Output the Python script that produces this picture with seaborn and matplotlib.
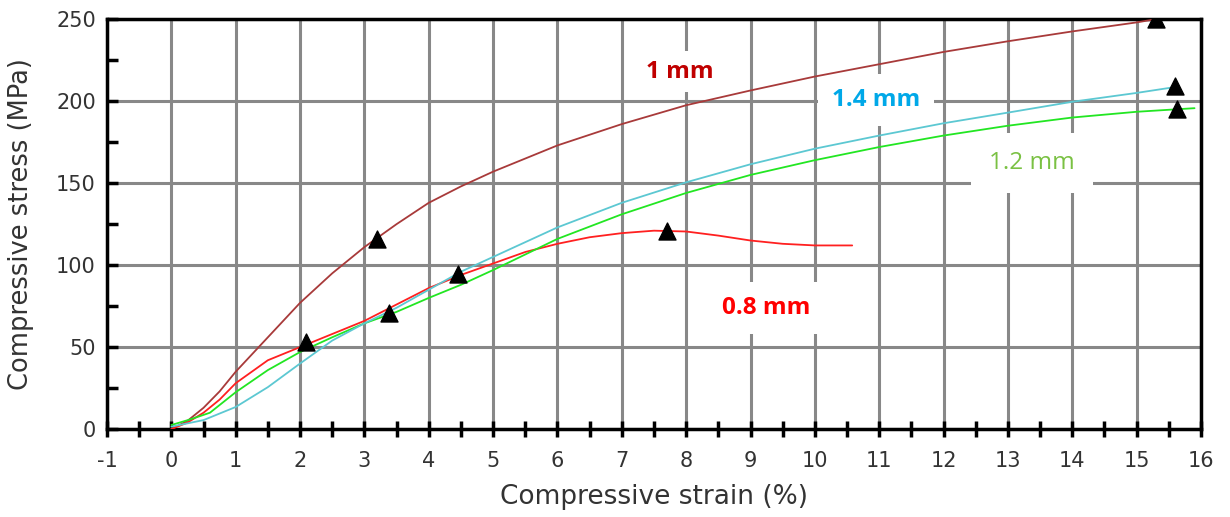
import numpy as np
import pandas as pd
import matplotlib
matplotlib.use('Agg')
import matplotlib.pyplot as plt
import seaborn as sns
from matplotlib.ticker import MultipleLocator

# curves (strain %, stress MPa)
strain_1mm = [0, 0.25, 0.5, 0.75, 1, 1.5, 2, 2.5, 3, 3.5, 4, 4.5, 5, 6, 7, 8, 9, 10, 11, 12, 13, 14, 15, 15.3]
stress_1mm = [0, 5, 13, 23, 35, 56, 77, 95, 111, 125, 138, 148, 157, 173, 186, 197.5, 206.5, 215, 222.5, 230, 236.5, 242.5, 248, 250]

strain_08mm = [0, 0.25, 0.5, 0.75, 1, 1.5, 2, 2.5, 3, 3.5, 4, 4.5, 5, 5.5, 6, 6.5, 7, 7.5, 8, 8.5, 9, 9.5, 10, 10.58]
stress_08mm = [0, 4, 10, 18, 28, 42, 50, 58, 66, 76, 86, 94, 101, 108, 113, 117, 119.5, 121, 120.5, 118, 115, 113, 112, 112]

strain_12mm = [0, 0.3, 0.6, 1, 1.5, 2, 2.5, 3, 3.5, 4, 4.5, 5, 6, 7, 8, 9, 10, 11, 12, 13, 14, 15, 15.9]
stress_12mm = [2.5, 6, 10, 22.5, 36, 47, 56, 64.5, 71.5, 80, 88, 97, 116, 131, 144, 155, 164, 172, 179, 185, 190, 193.5, 195.7]

strain_14mm = [0, 0.5, 1, 1.5, 2, 2.5, 3, 3.5, 4, 4.5, 5, 6, 7, 8, 9, 10, 11, 12, 13, 14, 15, 15.6]
stress_14mm = [1.5, 5.5, 13.5, 25.6, 40, 54, 64.5, 74, 85, 96, 105, 123, 138, 150.5, 161.5, 171, 179, 186.5, 193, 199.6, 205, 208.6]

# black triangles
marker_strain = [3.2, 15.3, 2.1, 7.7, 3.38, 15.62, 4.45, 15.6]
marker_stress = [116, 250, 53, 121, 70.5, 195, 94.5, 209]

curves = pd.concat([
    pd.DataFrame({'strain': strain_1mm, 'stress': stress_1mm, 'size': '1 mm'}),
    pd.DataFrame({'strain': strain_08mm, 'stress': stress_08mm, 'size': '0.8 mm'}),
    pd.DataFrame({'strain': strain_12mm, 'stress': stress_12mm, 'size': '1.2 mm'}),
    pd.DataFrame({'strain': strain_14mm, 'stress': stress_14mm, 'size': '1.4 mm'}),
])
palette = {'1 mm': '#a83a3a', '0.8 mm': '#ff2020', '1.2 mm': '#22e622', '1.4 mm': '#5cc8d2'}

sns.set_style('white')
plt.rcParams['font.family'] = ['DejaVu Sans']
plt.rcParams['axes.unicode_minus'] = False

fig = plt.figure(figsize=(12.3, 5.17), dpi=100)
ax = fig.add_axes([0.087, 0.170, 0.8894, 0.793])

sns.lineplot(data=curves, x='strain', y='stress', hue='size', palette=palette,
             sort=False, estimator=None, linewidth=1.3, legend=False, ax=ax, zorder=3)
sns.scatterplot(x=marker_strain, y=marker_stress, marker='^', s=150, color='black',
                edgecolor='black', ax=ax, zorder=4)

ax.set_xlim(-1, 16)
ax.set_ylim(0, 250)
ax.xaxis.set_major_locator(MultipleLocator(1))
ax.xaxis.set_minor_locator(MultipleLocator(0.5))
ax.yaxis.set_major_locator(MultipleLocator(50))
ax.yaxis.set_minor_locator(MultipleLocator(25))

ax.grid(True, which='major', color='#888888', linewidth=2.2, zorder=1)
ax.set_axisbelow(True)
for s in ax.spines.values():
    s.set_color('black')
    s.set_linewidth(2.5)

ax.tick_params(axis='x', which='both', bottom=True, direction='inout', length=11, width=2.5,
               colors='black', labelcolor='#333333', labelsize=15, pad=10)
ax.tick_params(axis='y', which='both', left=True, direction='in', length=8, width=2.5,
               colors='black', labelcolor='#333333', labelsize=15, pad=8)

ax.set_xlabel('Compressive strain (%)', fontsize=19, color='#333333', va='center')
ax.set_ylabel('Compressive stress (MPa)', fontsize=18.5, color='#333333', va='center')
ax.xaxis.set_label_coords(0.5, -0.166)
ax.yaxis.set_label_coords(-0.079, 0.5)

ax.text(7.9, 218, '1 mm', color='#c00000', fontsize=17.5, fontweight='bold',
        family='Open Sans', ha='center', va='center',
        bbox=dict(facecolor='white', edgecolor='none', pad=6), zorder=2)
ax.text(10.95, 200.5, '1.4 mm', color='#00a8e8', fontsize=17.5, fontweight='bold',
        family='Open Sans', ha='center', va='center',
        bbox=dict(facecolor='white', edgecolor='none', pad=10), zorder=2)
ax.text(13.37, 162, '1.2 mm', color='#7ac143', fontsize=17.5,
        family='Open Sans', ha='center', va='center',
        bbox=dict(facecolor='white', edgecolor='none', pad=13), zorder=2)
ax.text(9.25, 74, '0.8 mm', color='#ff0000', fontsize=17.5, fontweight='bold',
        family='Open Sans', ha='center', va='center',
        bbox=dict(facecolor='white', edgecolor='none', pad=10), zorder=2)

fig.savefig('out.png', dpi=100)
